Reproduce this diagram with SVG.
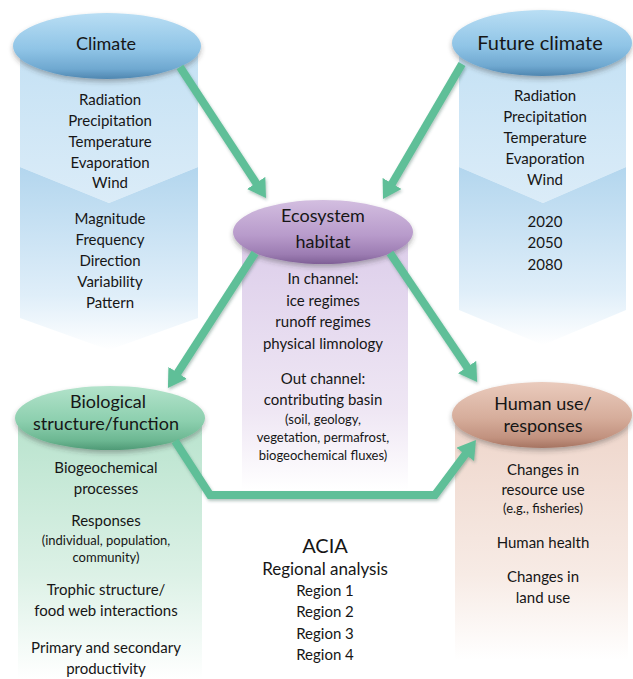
<svg xmlns="http://www.w3.org/2000/svg" width="633" height="679" viewBox="0 0 633 679">
<defs>
<style>
text{font-family:Lato,"Open Sans","Liberation Sans",sans-serif;fill:#161616;text-anchor:middle}
.t{font-size:18px}
.tl{font-size:20px}
.b{font-size:15px}
.s{font-size:13px}
.r{font-size:17px}
.arr{fill:none;stroke:#5fbf98;stroke-width:8;stroke-linejoin:miter;marker-end:url(#head);filter:url(#sh)}
</style>
<filter id="sh" x="-20%" y="-20%" width="140%" height="140%">
<feDropShadow dx="1" dy="2" stdDeviation="1.5" flood-color="#2a5a48" flood-opacity="0.35"/>
</filter>
<filter id="esh" x="-10%" y="-20%" width="120%" height="150%">
<feDropShadow dx="0" dy="3" stdDeviation="2.5" flood-color="#333" flood-opacity="0.35"/>
</filter>
<marker id="head" viewBox="0 0 18 22" refX="2" refY="11" markerWidth="18" markerHeight="22" markerUnits="userSpaceOnUse" orient="auto">
<path d="M0,0 L18,11 L0,22 Z" fill="#5fbf98"/>
</marker>
<linearGradient id="gBlueE" x1="0" y1="0" x2="0" y2="1">
<stop offset="0" stop-color="#b9def4"/><stop offset="0.55" stop-color="#8fc4e6"/><stop offset="0.85" stop-color="#6fa8d0"/><stop offset="1" stop-color="#4f86b0"/>
</linearGradient>
<linearGradient id="gBlueU" x1="0" y1="0" x2="0" y2="1">
<stop offset="0" stop-color="#c4e1f4"/><stop offset="1" stop-color="#dbecf8"/>
</linearGradient>
<linearGradient id="gBlueL" x1="0" y1="0" x2="0" y2="1">
<stop offset="0" stop-color="#b3d6ee"/><stop offset="0.7" stop-color="#dfeef9"/><stop offset="1" stop-color="#ffffff"/>
</linearGradient>
<linearGradient id="gPurE" x1="0" y1="0" x2="0" y2="1">
<stop offset="0" stop-color="#d3bee0"/><stop offset="0.55" stop-color="#b89bcb"/><stop offset="0.85" stop-color="#9c7cb2"/><stop offset="1" stop-color="#7f6096"/>
</linearGradient>
<linearGradient id="gPurB" x1="0" y1="0" x2="0" y2="1">
<stop offset="0" stop-color="#dccdea"/><stop offset="0.7" stop-color="#efe7f4"/><stop offset="1" stop-color="#ffffff"/>
</linearGradient>
<linearGradient id="gGrnE" x1="0" y1="0" x2="0" y2="1">
<stop offset="0" stop-color="#b3e3cb"/><stop offset="0.55" stop-color="#8ccfae"/><stop offset="0.85" stop-color="#6cb792"/><stop offset="1" stop-color="#4f9a76"/>
</linearGradient>
<linearGradient id="gGrnB" x1="0" y1="0" x2="0" y2="1">
<stop offset="0" stop-color="#b8e3cd"/><stop offset="0.6" stop-color="#dcf1e6"/><stop offset="1" stop-color="#ffffff"/>
</linearGradient>
<linearGradient id="gTanE" x1="0" y1="0" x2="0" y2="1">
<stop offset="0" stop-color="#eacbbd"/><stop offset="0.55" stop-color="#d6ad9b"/><stop offset="0.85" stop-color="#c1917e"/><stop offset="1" stop-color="#a57361"/>
</linearGradient>
<linearGradient id="gTanB" x1="0" y1="0" x2="0" y2="1">
<stop offset="0" stop-color="#eed5ca"/><stop offset="0.65" stop-color="#f7ebe5"/><stop offset="1" stop-color="#ffffff"/>
</linearGradient>
</defs>
<rect width="633" height="679" fill="#ffffff"/>

<g id="climate">
<polygon points="20,46 198,46 198,167 109,203 20,167" fill="url(#gBlueU)"/>
<polygon points="20,167 109,203 198,167 198,318 109,350 20,318" fill="url(#gBlueL)"/>
<ellipse cx="107" cy="46" rx="94" ry="33" fill="url(#gBlueE)" filter="url(#esh)"/>
<text class="t" x="106" y="50">Climate</text>
<text class="b" x="110" y="105">Radiation</text>
<text class="b" x="110" y="126">Precipitation</text>
<text class="b" x="110" y="147">Temperature</text>
<text class="b" x="110" y="168">Evaporation</text>
<text class="b" x="110" y="188">Wind</text>
<text class="b" x="110" y="224">Magnitude</text>
<text class="b" x="110" y="245">Frequency</text>
<text class="b" x="110" y="266">Direction</text>
<text class="b" x="110" y="287">Variability</text>
<text class="b" x="110" y="308">Pattern</text>
</g>

<g id="future-climate">
<polygon points="459,43 626,43 626,167 543,203 459,167" fill="url(#gBlueU)"/>
<polygon points="459,167 543,203 626,167 626,310 543,345 459,310" fill="url(#gBlueL)"/>
<ellipse cx="542" cy="43" rx="90" ry="33" fill="url(#gBlueE)" filter="url(#esh)"/>
<text class="tl" x="540" y="50">Future climate</text>
<text class="b" x="545" y="101">Radiation</text>
<text class="b" x="545" y="122">Precipitation</text>
<text class="b" x="545" y="143">Temperature</text>
<text class="b" x="545" y="164">Evaporation</text>
<text class="b" x="545" y="185">Wind</text>
<text class="b" x="545" y="227">2020</text>
<text class="b" x="545" y="248">2050</text>
<text class="b" x="545" y="270">2080</text>
</g>

<g id="ecosystem-habitat">
<rect x="242" y="232" width="166" height="258" fill="url(#gPurB)"/>
<ellipse cx="323" cy="232" rx="90" ry="32" fill="url(#gPurE)" filter="url(#esh)"/>
<text class="t" x="323" y="222">Ecosystem</text>
<text class="t" x="323" y="248">habitat</text>
<text class="b" x="323" y="284">In channel:</text>
<text class="b" x="323" y="306">ice regimes</text>
<text class="b" x="323" y="327">runoff regimes</text>
<text class="b" x="323" y="349">physical limnology</text>
<text class="b" x="323" y="384">Out channel:</text>
<text class="b" x="323" y="405">contributing basin</text>
<text class="s" x="323" y="424">(soil, geology,</text>
<text class="s" x="323" y="442">vegetation, permafrost,</text>
<text class="s" x="323" y="460">biogeochemical fluxes)</text>
</g>

<g id="biological">
<rect x="18" y="418" width="184" height="261" fill="url(#gGrnB)"/>
<ellipse cx="110" cy="418" rx="95" ry="32" fill="url(#gGrnE)" filter="url(#esh)"/>
<text class="t" x="108" y="408">Biological</text>
<text class="t" x="106" y="430">structure/function</text>
<text class="b" x="106" y="473">Biogeochemical</text>
<text class="b" x="106" y="494">processes</text>
<text class="b" x="106" y="526">Responses</text>
<text class="s" x="106" y="545">(individual, population,</text>
<text class="s" x="106" y="562">community)</text>
<text class="b" x="106" y="595">Trophic structure/</text>
<text class="b" x="106" y="616">food web interactions</text>
<text class="b" x="106" y="653">Primary and secondary</text>
<text class="b" x="106" y="674">productivity</text>
</g>

<g id="human-use">
<rect x="455" y="415" width="173" height="245" fill="url(#gTanB)"/>
<ellipse cx="542" cy="415" rx="90" ry="33" fill="url(#gTanE)" filter="url(#esh)"/>
<text class="t" x="543" y="410">Human use/</text>
<text class="t" x="543" y="432">responses</text>
<text class="b" x="543" y="475">Changes in</text>
<text class="b" x="543" y="495">resource use</text>
<text class="s" x="543" y="513">(e.g., fisheries)</text>
<text class="b" x="543" y="548">Human health</text>
<text class="b" x="543" y="582">Changes in</text>
<text class="b" x="543" y="603">land use</text>
</g>

<g id="acia">
<text class="tl" x="325" y="553">ACIA</text>
<text class="r" x="325" y="575">Regional analysis</text>
<text class="b" x="325" y="596">Region 1</text>
<text class="b" x="325" y="617">Region 2</text>
<text class="b" x="325" y="639">Region 3</text>
<text class="b" x="325" y="660">Region 4</text>
</g>

<g id="connectors">
<path class="arr" d="M180,67 L257.2,184.6"/>
<path class="arr" d="M462,64 L391.1,185.2"/>
<path class="arr" d="M255,253 L176.6,374.5"/>
<path class="arr" d="M390,253 L468.2,368.7"/>
<path class="arr" d="M175,441 L210,495 L435,495 L466.4,452.8"/>
</g>
</svg>
